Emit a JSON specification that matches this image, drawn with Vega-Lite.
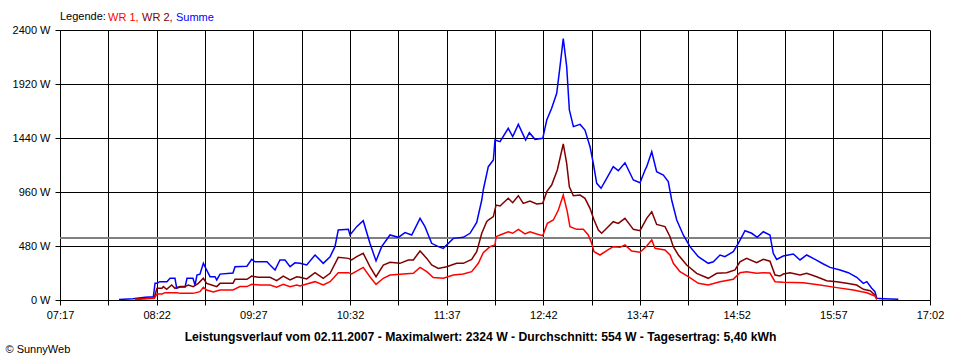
{
  "$schema": "https://vega.github.io/schema/vega-lite/v6.json",
  "width": 870,
  "height": 270,
  "autosize": {"type": "none"},
  "padding": {"left": 60, "top": 30, "right": 30, "bottom": 60},
  "background": "white",
  "config": {
    "view": {"stroke": null},
    "font": "Liberation Sans",
    "axis": {
      "domainColor": "black",
      "tickColor": "black",
      "gridColor": "black",
      "gridOpacity": 1,
      "gridWidth": 1,
      "tickSize": 5,
      "labelFont": "Liberation Sans",
      "labelFontSize": 11,
      "labelColor": "black",
      "titleColor": "black",
      "labelFlush": false,
      "labelOverlap": false
    }
  },
  "data": {
    "values": [
      {"s":"Summe","t":476.7,"w":5},{"s":"Summe","t":486.1,"w":12},{"s":"Summe","t":494.2,"w":25},{"s":"Summe","t":499.8,"w":30},{"s":"Summe","t":500.9,"w":150},{"s":"Summe","t":502.2,"w":150},{"s":"Summe","t":504.2,"w":163},{"s":"Summe","t":508.9,"w":163},{"s":"Summe","t":511,"w":193},{"s":"Summe","t":514.3,"w":193},{"s":"Summe","t":515.5,"w":104},{"s":"Summe","t":517.7,"w":115},{"s":"Summe","t":521.1,"w":115},{"s":"Summe","t":522.4,"w":193},{"s":"Summe","t":526.4,"w":193},{"s":"Summe","t":527.8,"w":133},{"s":"Summe","t":529.1,"w":222},{"s":"Summe","t":531.1,"w":230},{"s":"Summe","t":533.4,"w":326},{"s":"Summe","t":535.6,"w":267},{"s":"Summe","t":537.9,"w":207},{"s":"Summe","t":541.2,"w":207},{"s":"Summe","t":542.4,"w":178},{"s":"Summe","t":544.6,"w":230},{"s":"Summe","t":553.3,"w":240},{"s":"Summe","t":554.7,"w":296},{"s":"Summe","t":562.7,"w":300},{"s":"Summe","t":565.9,"w":361},{"s":"Summe","t":568.1,"w":340},{"s":"Summe","t":576.2,"w":340},{"s":"Summe","t":578.2,"w":311},{"s":"Summe","t":581.6,"w":267},{"s":"Summe","t":584.9,"w":356},{"s":"Summe","t":588.3,"w":356},{"s":"Summe","t":591.7,"w":296},{"s":"Summe","t":595,"w":330},{"s":"Summe","t":598.4,"w":326},{"s":"Summe","t":602.9,"w":311},{"s":"Summe","t":608.5,"w":400},{"s":"Summe","t":614,"w":326},{"s":"Summe","t":618.6,"w":385},{"s":"Summe","t":621.9,"w":474},{"s":"Summe","t":624.1,"w":622},{"s":"Summe","t":630.9,"w":628},{"s":"Summe","t":632,"w":578},{"s":"Summe","t":636.5,"w":652},{"s":"Summe","t":640.9,"w":705},{"s":"Summe","t":645.4,"w":504},{"s":"Summe","t":649.5,"w":347},{"s":"Summe","t":653.3,"w":474},{"s":"Summe","t":658.9,"w":578},{"s":"Summe","t":664.5,"w":557},{"s":"Summe","t":669,"w":599},{"s":"Summe","t":673.5,"w":578},{"s":"Summe","t":679.1,"w":726},{"s":"Summe","t":682.4,"w":652},{"s":"Summe","t":686.9,"w":504},{"s":"Summe","t":691.4,"w":474},{"s":"Summe","t":694.7,"w":459},{"s":"Summe","t":701.5,"w":548},{"s":"Summe","t":708.2,"w":557},{"s":"Summe","t":712.7,"w":593},{"s":"Summe","t":717.2,"w":690},{"s":"Summe","t":720.6,"w":889},{"s":"Summe","t":721.6,"w":978},{"s":"Summe","t":725,"w":1185},{"s":"Summe","t":728.4,"w":1244},{"s":"Summe","t":729.5,"w":1422},{"s":"Summe","t":732.9,"w":1407},{"s":"Summe","t":738.4,"w":1526},{"s":"Summe","t":741.4,"w":1452},{"s":"Summe","t":745.2,"w":1561},{"s":"Summe","t":750.1,"w":1422},{"s":"Summe","t":752.6,"w":1487},{"s":"Summe","t":756.4,"w":1428},{"s":"Summe","t":761.6,"w":1437},{"s":"Summe","t":764.3,"w":1600},{"s":"Summe","t":767.6,"w":1704},{"s":"Summe","t":771,"w":1837},{"s":"Summe","t":773.2,"w":2074},{"s":"Summe","t":775.4,"w":2324},{"s":"Summe","t":777.7,"w":2074},{"s":"Summe","t":779.5,"w":1689},{"s":"Summe","t":782.2,"w":1541},{"s":"Summe","t":786.7,"w":1561},{"s":"Summe","t":790,"w":1511},{"s":"Summe","t":793.4,"w":1363},{"s":"Summe","t":795.6,"w":1215},{"s":"Summe","t":797.9,"w":1037},{"s":"Summe","t":800.8,"w":993},{"s":"Summe","t":804.6,"w":1081},{"s":"Summe","t":809,"w":1185},{"s":"Summe","t":812.4,"w":1150},{"s":"Summe","t":816.9,"w":1220},{"s":"Summe","t":822.5,"w":1067},{"s":"Summe","t":827,"w":1043},{"s":"Summe","t":830.4,"w":1156},{"s":"Summe","t":831.5,"w":1185},{"s":"Summe","t":834.9,"w":1318},{"s":"Summe","t":838.2,"w":1141},{"s":"Summe","t":842.7,"w":1111},{"s":"Summe","t":846,"w":1052},{"s":"Summe","t":848.3,"w":889},{"s":"Summe","t":851.7,"w":711},{"s":"Summe","t":856.1,"w":578},{"s":"Summe","t":860.6,"w":474},{"s":"Summe","t":866.2,"w":385},{"s":"Summe","t":872.9,"w":326},{"s":"Summe","t":876.3,"w":340},{"s":"Summe","t":880.8,"w":400},{"s":"Summe","t":884.1,"w":385},{"s":"Summe","t":889.7,"w":430},{"s":"Summe","t":893.1,"w":504},{"s":"Summe","t":897.6,"w":616},{"s":"Summe","t":902.1,"w":593},{"s":"Summe","t":905.8,"w":557},{"s":"Summe","t":909.9,"w":607},{"s":"Summe","t":914.4,"w":578},{"s":"Summe","t":916.6,"w":415},{"s":"Summe","t":918.9,"w":361},{"s":"Summe","t":923.3,"w":391},{"s":"Summe","t":930.1,"w":409},{"s":"Summe","t":934.6,"w":356},{"s":"Summe","t":939.1,"w":400},{"s":"Summe","t":944.7,"w":361},{"s":"Summe","t":950.3,"w":320},{"s":"Summe","t":954.8,"w":290},{"s":"Summe","t":961.5,"w":267},{"s":"Summe","t":967.1,"w":243},{"s":"Summe","t":972.7,"w":202},{"s":"Summe","t":977.2,"w":148},{"s":"Summe","t":979.5,"w":163},{"s":"Summe","t":982.8,"w":104},{"s":"Summe","t":985,"w":74},{"s":"Summe","t":986.2,"w":15},{"s":"Summe","t":990.6,"w":12},{"s":"Summe","t":1000.7,"w":6},

      {"s":"WR 2","t":487.4,"w":8},{"s":"WR 2","t":500.4,"w":20},{"s":"WR 2","t":502.2,"w":104},{"s":"WR 2","t":505.6,"w":104},{"s":"WR 2","t":506.5,"w":119},{"s":"WR 2","t":508.7,"w":95},{"s":"WR 2","t":512.1,"w":133},{"s":"WR 2","t":514.3,"w":104},{"s":"WR 2","t":517.7,"w":119},{"s":"WR 2","t":521.1,"w":119},{"s":"WR 2","t":523.3,"w":133},{"s":"WR 2","t":526.6,"w":119},{"s":"WR 2","t":530,"w":148},{"s":"WR 2","t":533.4,"w":193},{"s":"WR 2","t":535.6,"w":148},{"s":"WR 2","t":539,"w":133},{"s":"WR 2","t":542.4,"w":119},{"s":"WR 2","t":544.6,"w":148},{"s":"WR 2","t":553.3,"w":148},{"s":"WR 2","t":554.7,"w":184},{"s":"WR 2","t":562.7,"w":184},{"s":"WR 2","t":565.9,"w":213},{"s":"WR 2","t":570.1,"w":202},{"s":"WR 2","t":578.2,"w":202},{"s":"WR 2","t":582.7,"w":172},{"s":"WR 2","t":587.1,"w":213},{"s":"WR 2","t":591.7,"w":178},{"s":"WR 2","t":596.2,"w":207},{"s":"WR 2","t":598.4,"w":202},{"s":"WR 2","t":602.9,"w":187},{"s":"WR 2","t":608.5,"w":243},{"s":"WR 2","t":614,"w":193},{"s":"WR 2","t":618.6,"w":237},{"s":"WR 2","t":624.1,"w":379},{"s":"WR 2","t":630.9,"w":370},{"s":"WR 2","t":633.1,"w":356},{"s":"WR 2","t":636.5,"w":385},{"s":"WR 2","t":640.9,"w":415},{"s":"WR 2","t":645.4,"w":296},{"s":"WR 2","t":649.5,"w":207},{"s":"WR 2","t":654.4,"w":311},{"s":"WR 2","t":658.9,"w":335},{"s":"WR 2","t":665.6,"w":326},{"s":"WR 2","t":671.2,"w":356},{"s":"WR 2","t":674.6,"w":356},{"s":"WR 2","t":679.1,"w":436},{"s":"WR 2","t":683.6,"w":370},{"s":"WR 2","t":686.9,"w":311},{"s":"WR 2","t":691.4,"w":281},{"s":"WR 2","t":697,"w":296},{"s":"WR 2","t":703.7,"w":326},{"s":"WR 2","t":708.2,"w":326},{"s":"WR 2","t":713.8,"w":361},{"s":"WR 2","t":717.2,"w":430},{"s":"WR 2","t":720.6,"w":593},{"s":"WR 2","t":723.9,"w":696},{"s":"WR 2","t":725,"w":711},{"s":"WR 2","t":728.4,"w":741},{"s":"WR 2","t":730.2,"w":844},{"s":"WR 2","t":732.9,"w":836},{"s":"WR 2","t":738.4,"w":904},{"s":"WR 2","t":741.4,"w":865},{"s":"WR 2","t":745.2,"w":927},{"s":"WR 2","t":748.5,"w":859},{"s":"WR 2","t":753,"w":880},{"s":"WR 2","t":757.5,"w":853},{"s":"WR 2","t":761.6,"w":859},{"s":"WR 2","t":764.3,"w":963},{"s":"WR 2","t":767.6,"w":1022},{"s":"WR 2","t":771.4,"w":1156},{"s":"WR 2","t":775.4,"w":1387},{"s":"WR 2","t":777.7,"w":1215},{"s":"WR 2","t":779.5,"w":1007},{"s":"WR 2","t":782.2,"w":927},{"s":"WR 2","t":786.7,"w":933},{"s":"WR 2","t":790,"w":904},{"s":"WR 2","t":793.4,"w":815},{"s":"WR 2","t":796.1,"w":711},{"s":"WR 2","t":799,"w":622},{"s":"WR 2","t":801.2,"w":593},{"s":"WR 2","t":804.6,"w":637},{"s":"WR 2","t":809,"w":696},{"s":"WR 2","t":812.4,"w":681},{"s":"WR 2","t":816.9,"w":726},{"s":"WR 2","t":822.5,"w":628},{"s":"WR 2","t":827,"w":616},{"s":"WR 2","t":831.5,"w":726},{"s":"WR 2","t":834.9,"w":785},{"s":"WR 2","t":838.2,"w":672},{"s":"WR 2","t":843.8,"w":652},{"s":"WR 2","t":847.2,"w":563},{"s":"WR 2","t":849.4,"w":474},{"s":"WR 2","t":852.8,"w":400},{"s":"WR 2","t":858.4,"w":311},{"s":"WR 2","t":865.1,"w":237},{"s":"WR 2","t":872.9,"w":193},{"s":"WR 2","t":878.6,"w":237},{"s":"WR 2","t":885.3,"w":243},{"s":"WR 2","t":890.9,"w":267},{"s":"WR 2","t":894.2,"w":340},{"s":"WR 2","t":898.7,"w":370},{"s":"WR 2","t":905.4,"w":332},{"s":"WR 2","t":909.9,"w":361},{"s":"WR 2","t":914.4,"w":345},{"s":"WR 2","t":917.8,"w":222},{"s":"WR 2","t":921.1,"w":213},{"s":"WR 2","t":923.3,"w":231},{"s":"WR 2","t":927.9,"w":243},{"s":"WR 2","t":934.6,"w":222},{"s":"WR 2","t":939.1,"w":237},{"s":"WR 2","t":945.8,"w":207},{"s":"WR 2","t":952.5,"w":172},{"s":"WR 2","t":959.3,"w":163},{"s":"WR 2","t":966,"w":148},{"s":"WR 2","t":972.7,"w":133},{"s":"WR 2","t":977.2,"w":95},{"s":"WR 2","t":981.7,"w":83},{"s":"WR 2","t":985,"w":44},{"s":"WR 2","t":986.2,"w":6},

      {"s":"WR 1","t":487.4,"w":5},{"s":"WR 1","t":500.4,"w":15},{"s":"WR 1","t":502.2,"w":53},{"s":"WR 1","t":505.6,"w":53},{"s":"WR 1","t":507.6,"w":65},{"s":"WR 1","t":515.7,"w":65},{"s":"WR 1","t":517.7,"w":59},{"s":"WR 1","t":526.4,"w":59},{"s":"WR 1","t":531.1,"w":74},{"s":"WR 1","t":533.4,"w":113},{"s":"WR 1","t":535.6,"w":89},{"s":"WR 1","t":540.1,"w":71},{"s":"WR 1","t":544.6,"w":89},{"s":"WR 1","t":553.3,"w":89},{"s":"WR 1","t":558,"w":119},{"s":"WR 1","t":562.7,"w":119},{"s":"WR 1","t":565.9,"w":139},{"s":"WR 1","t":571.5,"w":133},{"s":"WR 1","t":578.2,"w":133},{"s":"WR 1","t":582.7,"w":113},{"s":"WR 1","t":587.1,"w":139},{"s":"WR 1","t":591.7,"w":119},{"s":"WR 1","t":596.2,"w":133},{"s":"WR 1","t":598.4,"w":124},{"s":"WR 1","t":602.9,"w":142},{"s":"WR 1","t":608.5,"w":163},{"s":"WR 1","t":614,"w":133},{"s":"WR 1","t":618.6,"w":163},{"s":"WR 1","t":624.1,"w":243},{"s":"WR 1","t":630.9,"w":243},{"s":"WR 1","t":633.1,"w":231},{"s":"WR 1","t":640.9,"w":290},{"s":"WR 1","t":645.4,"w":207},{"s":"WR 1","t":649.5,"w":139},{"s":"WR 1","t":654.4,"w":193},{"s":"WR 1","t":658.9,"w":222},{"s":"WR 1","t":665.6,"w":228},{"s":"WR 1","t":674.6,"w":237},{"s":"WR 1","t":679.1,"w":290},{"s":"WR 1","t":683.6,"w":252},{"s":"WR 1","t":688,"w":199},{"s":"WR 1","t":694.7,"w":193},{"s":"WR 1","t":701.5,"w":222},{"s":"WR 1","t":708.2,"w":231},{"s":"WR 1","t":713.8,"w":252},{"s":"WR 1","t":718.3,"w":326},{"s":"WR 1","t":721.6,"w":420},{"s":"WR 1","t":726.1,"w":474},{"s":"WR 1","t":729.5,"w":489},{"s":"WR 1","t":730.2,"w":563},{"s":"WR 1","t":732.9,"w":578},{"s":"WR 1","t":738.4,"w":607},{"s":"WR 1","t":741.4,"w":593},{"s":"WR 1","t":745.2,"w":628},{"s":"WR 1","t":749.7,"w":587},{"s":"WR 1","t":753,"w":607},{"s":"WR 1","t":757.5,"w":587},{"s":"WR 1","t":761.6,"w":572},{"s":"WR 1","t":764.7,"w":681},{"s":"WR 1","t":768.7,"w":711},{"s":"WR 1","t":772.1,"w":800},{"s":"WR 1","t":775.4,"w":933},{"s":"WR 1","t":778.1,"w":785},{"s":"WR 1","t":779.9,"w":652},{"s":"WR 1","t":784.4,"w":628},{"s":"WR 1","t":788.9,"w":628},{"s":"WR 1","t":792.2,"w":578},{"s":"WR 1","t":794.5,"w":504},{"s":"WR 1","t":796.1,"w":430},{"s":"WR 1","t":800.1,"w":400},{"s":"WR 1","t":804.6,"w":438},{"s":"WR 1","t":809,"w":474},{"s":"WR 1","t":813.5,"w":468},{"s":"WR 1","t":816.9,"w":489},{"s":"WR 1","t":821.4,"w":436},{"s":"WR 1","t":827,"w":425},{"s":"WR 1","t":831.5,"w":480},{"s":"WR 1","t":834.9,"w":533},{"s":"WR 1","t":837.1,"w":459},{"s":"WR 1","t":843.8,"w":444},{"s":"WR 1","t":847.2,"w":400},{"s":"WR 1","t":849.4,"w":326},{"s":"WR 1","t":853.9,"w":252},{"s":"WR 1","t":859.5,"w":207},{"s":"WR 1","t":866.2,"w":148},{"s":"WR 1","t":872.9,"w":133},{"s":"WR 1","t":880.8,"w":163},{"s":"WR 1","t":889.7,"w":184},{"s":"WR 1","t":894.2,"w":243},{"s":"WR 1","t":898.7,"w":252},{"s":"WR 1","t":905.4,"w":237},{"s":"WR 1","t":909.9,"w":243},{"s":"WR 1","t":914.4,"w":240},{"s":"WR 1","t":917.8,"w":163},{"s":"WR 1","t":923.3,"w":157},{"s":"WR 1","t":936.8,"w":154},{"s":"WR 1","t":948,"w":133},{"s":"WR 1","t":959.3,"w":110},{"s":"WR 1","t":970.4,"w":89},{"s":"WR 1","t":979.5,"w":65},{"s":"WR 1","t":985,"w":36},{"s":"WR 1","t":986.2,"w":6}
    ]
  },
  "layer": [
    {
      "mark": {"type": "rule", "color": "#808080", "strokeWidth": 1.5},
      "encoding": {
        "y": {"datum": 554, "type": "quantitative"}
      }
    },
    {
      "mark": {"type": "line", "strokeWidth": 1.5, "interpolate": "linear"},
      "encoding": {
        "x": {
          "field": "t",
          "type": "quantitative",
          "scale": {"domain": [437, 1022], "nice": false, "zero": false},
          "axis": {
            "values": [437, 469.5, 502, 534.5, 567, 599.5, 632, 664.5, 697, 729.5, 762, 794.5, 827, 859.5, 892, 924.5, 957, 989.5, 1022],
            "labelExpr": "(datum.value % 65 == 47) ? ((floor(datum.value/60) < 10 ? '0' : '') + floor(datum.value/60) + ':' + ((datum.value % 60) < 10 ? '0' : '') + (datum.value % 60)) : ''",
            "grid": true,
            "labelPadding": 4,
            "title": "Leistungsverlauf vom 02.11.2007 - Maximalwert: 2324 W - Durchschnitt: 554 W - Tagesertrag: 5,40 kWh",
            "titleFont": "Liberation Sans",
            "titleFontSize": 12.2,
            "titleFontWeight": "bold",
            "titleX": 420,
            "titleY": 40,
            "titleAlign": "center",
            "titleBaseline": "alphabetic"
          }
        },
        "y": {
          "field": "w",
          "type": "quantitative",
          "scale": {"domain": [0, 2400], "nice": false},
          "axis": {
            "values": [0, 480, 960, 1440, 1920, 2400],
            "labelExpr": "datum.value + ' W'",
            "grid": true,
            "labelPadding": 5,
            "title": "© SunnyWeb",
            "titleFont": "Liberation Sans",
            "titleFontSize": 11,
            "titleFontWeight": "normal",
            "titleAngle": 0,
            "titleX": -55,
            "titleY": 322,
            "titleAlign": "left",
            "titleBaseline": "alphabetic"
          }
        },
        "color": {
          "field": "s",
          "type": "nominal",
          "scale": {"domain": ["WR 1", "WR 2", "Summe"], "range": ["#ff0000", "#800000", "#0000ff"]},
          "legend": {
            "orient": "none",
            "legendX": 0,
            "legendY": -18,
            "direction": "horizontal",
            "title": "Legende:",
            "titleOrient": "left",
            "titleFont": "Liberation Sans",
            "titleFontSize": 11,
            "titleFontWeight": "normal",
            "titleColor": "black",
            "titlePadding": 2,
            "titleBaseline": "middle",
            "labelFont": "Liberation Sans",
            "labelFontSize": 11,
            "symbolSize": 1,
            "symbolStrokeWidth": 0,
            "symbolOpacity": 0,
            "labelOffset": -11,
            "columnPadding": 3,
            "labelExpr": "datum.label == 'Summe' ? datum.label : datum.label + ','",
            "encode": {"labels": {"update": {"fill": {"scale": "color", "field": "value"}}}}
          }
        }
      }
    }
  ]
}
